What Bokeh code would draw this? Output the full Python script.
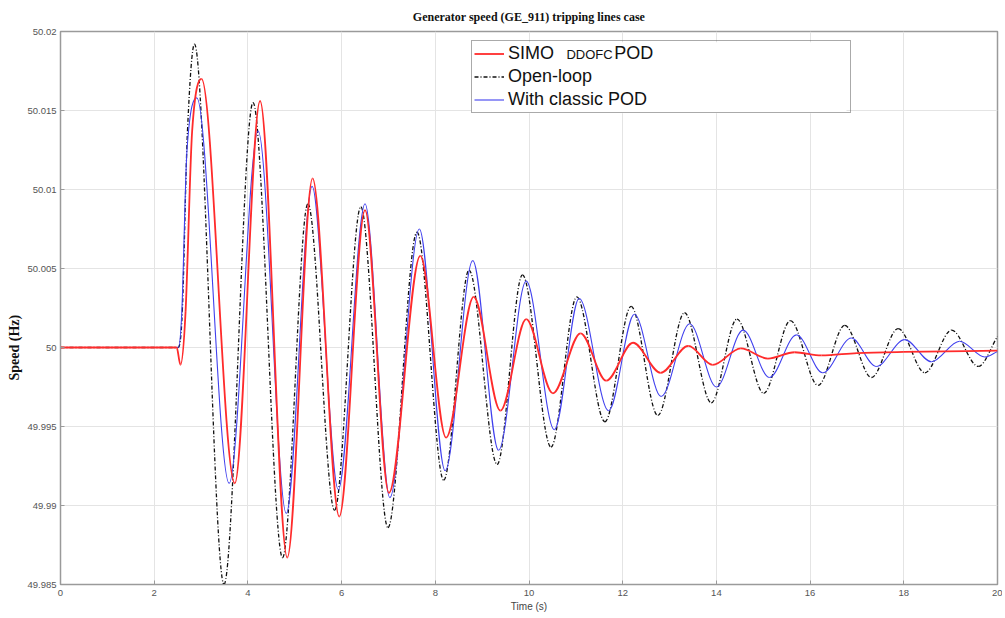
from bokeh.plotting import figure
from bokeh.models import (ColumnDataSource, Legend, LegendItem, FixedTicker, Range1d, Title,
                          BoxAnnotation)
from bokeh.core.properties import value
from bokeh.embed import file_html
from bokeh.resources import INLINE

# ---- data (extrema / knots of each trace) ----
t_open = [0.0, 2.51, 2.60, 2.71, 2.86, 3.49, 4.11, 4.74, 5.28, 5.85, 6.41, 6.99, 7.61, 8.18,
          8.72, 9.32, 9.86, 10.47, 11.02, 11.62, 12.18, 12.75, 13.32, 13.89, 14.44, 15.01,
          15.58, 16.17, 16.74, 17.31, 17.88, 18.45, 19.02, 19.59, 20.0]
v_open = [50.0, 50.0, 50.0023, 50.0137, 50.0192, 49.9850, 50.0155, 49.9867, 50.0091, 49.9897,
          50.0089, 49.9886, 50.0073, 49.9916, 50.0049, 49.9926, 50.0046, 49.9937, 50.0032,
          49.9953, 50.0026, 49.9957, 50.0022, 49.9965, 50.0018, 49.9971, 50.0017, 49.9976,
          50.0014, 49.9981, 50.0012, 49.9984, 50.0011, 49.9988, 50.0007]

t_classic = [0.0, 2.51, 2.59, 2.70, 2.91, 3.60, 4.22, 4.82, 5.37, 5.93, 6.50, 7.03, 7.66, 8.21,
             8.80, 9.35, 9.94, 10.54, 11.07, 11.70, 12.25, 12.82, 13.43, 14.00, 14.57, 15.13,
             15.71, 16.27, 16.88, 17.41, 18.02, 18.59, 19.19, 19.73, 20.0]
v_classic = [50.0, 50.0, 50.0023, 50.0125, 50.0158, 49.9914, 50.0137, 49.9895, 50.0102, 49.9910,
             50.0091, 49.9905, 50.0075, 49.9922, 50.0055, 49.9935, 50.0042, 49.9948, 50.0031,
             49.9960, 50.0021, 49.9969, 50.0015, 49.9975, 50.0011, 49.9981, 50.0008, 49.9984,
             50.0006, 49.9988, 50.0005, 49.9991, 50.0004, 49.9994, 49.99975]

t_simo = [0.0, 2.48, 2.56, 2.67, 2.81, 3.01, 3.72, 4.26, 4.84, 5.38, 5.95, 6.50, 7.01, 7.68,
          8.23, 8.82, 9.39, 9.94, 10.51, 11.10, 11.65, 12.22, 12.81, 13.40, 13.92, 14.52,
          15.10, 15.67, 16.24, 17.0, 18.0, 20.0]
v_simo = [50.0, 50.0, 49.9989, 50.0023, 50.0137, 50.0170, 49.9914, 50.0156, 49.9867, 50.0107,
          49.9893, 50.0087, 49.9908, 50.0058, 49.9943, 50.0032, 49.9960, 50.0018, 49.9971,
          50.0009, 49.9979, 50.0003, 49.9984, 50.0001, 49.9989, 49.99995, 49.9993, 49.9997,
          49.9995, 49.99965, 49.99972, 49.9998]

series_labels = ["SIMO", "Open-loop", "With classic POD"]
simo_label_rest = ["DDOFC", "POD"]   # rest of "SIMO DDOFC POD" (DDOFC written smaller)

x_ticks = [0, 2, 4, 6, 8, 10, 12, 14, 16, 18, 20]
y_ticks = [49.985, 49.99, 49.995, 50.0, 50.005, 50.01, 50.015, 50.02]
y_tick_labels = ["49.985", "49.99", "49.995", "50", "50.005", "50.01", "50.015", "50.02"]


def curve_source(t, v):
    """Smooth (cubic Hermite) rendering of the read knots via Bezier segments."""
    n = len(t)
    m = []
    for i in range(n):
        if i == 0:
            m.append(0.0)
        elif i == n - 1:
            m.append((v[i] - v[i - 1]) / (t[i] - t[i - 1]))
        else:
            a = v[i] - v[i - 1]
            b = v[i + 1] - v[i]
            if a * b <= 0:
                m.append(0.0)
            else:
                m.append((v[i + 1] - v[i - 1]) / (t[i + 1] - t[i - 1]))
    d = dict(x0=[], y0=[], x1=[], y1=[], cx0=[], cy0=[], cx1=[], cy1=[])
    for i in range(n - 1):
        h = t[i + 1] - t[i]
        d["x0"].append(t[i]); d["y0"].append(v[i])
        d["x1"].append(t[i + 1]); d["y1"].append(v[i + 1])
        d["cx0"].append(t[i] + h / 3.0); d["cy0"].append(v[i] + m[i] * h / 3.0)
        d["cx1"].append(t[i + 1] - h / 3.0); d["cy1"].append(v[i + 1] - m[i + 1] * h / 3.0)
    return ColumnDataSource(d)


p = figure(frame_width=937, frame_height=553, output_backend="svg", toolbar_location=None,
           x_range=Range1d(0, 20), y_range=Range1d(49.985, 50.02),
           min_border_left=60, min_border_right=5, min_border_top=31, min_border_bottom=30,
           background_fill_color="white", border_fill_color="white")

p.title.text = "Generator speed (GE_911) tripping lines case"
p.title.align = "center"
p.title.text_font = "Liberation Serif"
p.title.text_font_style = "bold"
p.title.text_font_size = "12px"
p.title.text_color = "#111111"
p.title.standoff = 15

p.outline_line_color = "#9a9a9a"
p.outline_line_width = 1.5

for ax in (p.xaxis[0], p.yaxis[0]):
    ax.axis_line_color = "#9a9a9a"
    ax.major_tick_line_color = "#9a9a9a"
    ax.major_tick_in = 4
    ax.major_tick_out = 0
    ax.minor_tick_line_color = None
    ax.major_label_text_font = "Liberation Sans"
    ax.major_label_text_font_size = "9.5px"
    ax.major_label_text_color = "#555555"

p.xaxis[0].ticker = FixedTicker(ticks=x_ticks)
p.yaxis[0].ticker = FixedTicker(ticks=y_ticks)
p.yaxis[0].major_label_overrides = dict(zip(y_ticks, y_tick_labels))
p.xaxis[0].major_label_standoff = 5
p.yaxis[0].major_label_standoff = 4

p.xaxis[0].axis_label = "Time (s)"
p.xaxis[0].axis_label_text_font = "Liberation Sans"
p.xaxis[0].axis_label_text_font_style = "normal"
p.xaxis[0].axis_label_text_font_size = "10px"
p.xaxis[0].axis_label_text_color = "#444444"
p.xaxis[0].axis_label_standoff = 2

# y-axis title (placed a bit below the frame centre, as in the reference)
p.add_layout(Title(text="Speed (Hz)", align="left", offset=204, standoff=6,
                   text_font="Liberation Serif", text_font_style="bold",
                   text_font_size="14px", text_color="#111111"), "left")

p.xgrid.grid_line_color = "#e4e4e4"
p.ygrid.grid_line_color = "#e4e4e4"
p.xgrid.ticker = p.xaxis[0].ticker
p.ygrid.ticker = p.yaxis[0].ticker

# white backing of the legend box (hides the grid behind the legend)
p.add_layout(BoxAnnotation(left=8.766, right=16.777, bottom=50.01483, top=50.01932,
                           fill_color="white", fill_alpha=1.0, line_color=None,
                           level="underlay"))

r_open = p.bezier(x0="x0", y0="y0", x1="x1", y1="y1", cx0="cx0", cy0="cy0", cx1="cx1", cy1="cy1",
                  source=curve_source(t_open, v_open), line_color="#111111", line_width=1.3,
                  line_dash="4 2 1 2")
r_classic = p.bezier(x0="x0", y0="y0", x1="x1", y1="y1", cx0="cx0", cy0="cy0", cx1="cx1", cy1="cy1",
                     source=curve_source(t_classic, v_classic), line_color="#4040ee", line_width=1.1)
r_simo = p.bezier(x0="x0", y0="y0", x1="x1", y1="y1", cx0="cx0", cy0="cy0", cx1="cx1", cy1="cy1",
                  source=curve_source(t_simo, v_simo), line_color="#ff2b2b", line_width=1.8)

# rest of the first legend entry
p.text(x=[10.80], y=[50.01857], text=[simo_label_rest[0]],
       text_font=value("Liberation Sans"), text_font_size=value("13px"),
       text_color="#111111", text_baseline="middle")
p.text(x=[11.82], y=[50.01865], text=[simo_label_rest[1]],
       text_font=value("Liberation Sans"), text_font_size=value("18px"),
       text_color="#111111", text_baseline="middle")

legend = Legend(items=[LegendItem(label=series_labels[0], renderers=[r_simo]),
                       LegendItem(label=series_labels[1], renderers=[r_open]),
                       LegendItem(label=series_labels[2], renderers=[r_classic])],
                location=(411, 471), padding=2, spacing=2, margin=0,
                label_height=21, glyph_height=21, glyph_width=30, label_standoff=4,
                label_width=340, label_text_font="Liberation Sans", label_text_font_size="18px",
                label_text_color="#111111", border_line_color="#555555", border_line_width=1,
                background_fill_alpha=0.0)
p.add_layout(legend)

open("out.html", "w").write(file_html(p, INLINE))
